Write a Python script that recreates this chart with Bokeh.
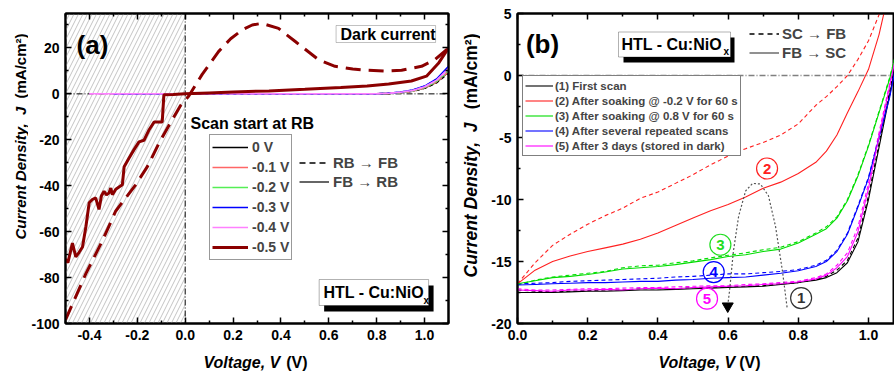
import numpy as np
from math import pi
from bokeh.plotting import figure
from bokeh.layouts import row, column
from bokeh.models import (Range1d, LinearAxis, FixedTicker, PrintfTickFormatter, Span, Label,
                          BoxAnnotation, Legend, LegendItem)
from bokeh.core.properties import value
from bokeh.embed import file_html
from bokeh.resources import INLINE

FONT = "Liberation Sans"

# ------------------------------------------------------------------ panel (a) data
a_labels = ["0 V", "-0.1 V", "-0.2 V", "-0.3 V", "-0.4 V"]
a_start_v = [0.0, -0.1, -0.2, -0.3, -0.4]
a_colors = ["#000000", "#ff6666", "#55ee55", "#0000ff", "#ff80ff"]
a_tail_v = [0.6, 0.7, 0.8, 0.85, 0.9, 0.95, 1.0, 1.05, 1.1]
a_tail_j_fb = [
    [0.0, 0.0, 0.05, 0.2, 0.5, 1.2, 2.5, 5.0, 9.5],
    [0.0, 0.0, 0.05, 0.25, 0.6, 1.3, 2.7, 5.3, 10.0],
    [0.0, 0.0, 0.05, 0.25, 0.6, 1.4, 2.9, 5.6, 10.5],
    [0.0, 0.0, 0.1, 0.3, 0.8, 1.7, 3.4, 6.5, 12.0],
    [0.0, 0.0, 0.05, 0.3, 0.7, 1.5, 3.1, 6.0, 11.0],
]
a_tail_j_rf = [
    [0.0, 0.0, 0.05, 0.2, 0.5, 1.1, 2.4, 4.8, 9.0],
    [0.0, 0.0, 0.05, 0.2, 0.55, 1.2, 2.6, 5.1, 9.5],
    [0.0, 0.0, 0.05, 0.25, 0.6, 1.3, 2.8, 5.4, 10.0],
    [0.0, 0.0, 0.1, 0.3, 0.75, 1.6, 3.3, 6.3, 11.5],
    [0.0, 0.0, 0.05, 0.3, 0.65, 1.4, 3.0, 5.8, 10.5],
]
a_label_05 = "-0.5 V"
a_color_05 = "#8b0000"
a_v_05_fb = [-0.5, -0.49, -0.471, -0.457, -0.443, -0.429, -0.415, -0.401, -0.388, -0.374,
             -0.36, -0.35, -0.339, -0.329, -0.318, -0.311, -0.304, -0.29, -0.2625, -0.255,
             -0.235, -0.215, -0.193, -0.172, -0.15, -0.13, -0.096, -0.089, -0.05, 0.0,
             0.1, 0.2, 0.35, 0.5, 0.65, 0.76, 0.85, 0.945, 1.008, 1.058, 1.1]
a_j_05_fb = [-72.0, -73.5, -65.0, -71.0, -69.0, -66.7, -58.0, -47.4, -46.0, -45.3,
             -50.3, -44.5, -42.4, -44.0, -43.1, -41.0, -43.9, -41.5, -39.6, -31.7,
             -28.0, -24.5, -20.9, -20.2, -15.5, -12.3, -12.3, -0.4, -0.3, 0.0,
             0.4, 0.8, 1.3, 2.0, 2.8, 3.4, 4.3, 5.6, 7.7, 13.3, 20.0]
a_v_05_rf = [-0.5, -0.415, -0.346, -0.29, -0.207, -0.158, -0.11, -0.068, -0.02, 0.015,
             0.071, 0.14, 0.19, 0.2375, 0.28, 0.32, 0.39, 0.46, 0.557, 0.626,
             0.70, 0.765, 0.835, 0.904, 0.9875, 1.043, 1.1]
a_j_05_rf = [-98.4, -78.3, -64.0, -51.0, -39.6, -31.7, -21.6, -13.8, -5.2, -0.9,
             8.5, 18.5, 24.0, 27.8, 30.0, 30.7, 28.5, 22.8, 14.9, 12.0,
             10.8, 10.3, 9.9, 10.3, 12.0, 14.9, 19.9]
a_x_ticks = [-0.4, -0.2, 0.0, 0.2, 0.4, 0.6, 0.8, 1.0]
a_x_minor = [-0.5, -0.3, -0.1, 0.1, 0.3, 0.5, 0.7, 0.9, 1.1]
a_y_ticks = [-100, -80, -60, -40, -20, 0, 20]
a_y_minor = [-90, -70, -50, -30, -10, 10, 30]
a_hatch = [-0.5, 0.0]

# ------------------------------------------------------------------ panel (b) data
b_labels = ["(1) First scan", "(2) After soaking @ -0.2 V for 60 s",
            "(3) After soaking @ 0.8 V for 60 s", "(4) After several repeated scans",
            "(5) After 3 days (stored in dark)"]
b_colors = ["#000000", "#ff2020", "#00dd00", "#0000ff", "#ff00ff"]
b_v = [0.00, 0.05, 0.10, 0.15, 0.20, 0.25, 0.30, 0.35, 0.40, 0.45, 0.50, 0.55, 0.60,
       0.65, 0.70, 0.75, 0.80, 0.85, 0.88, 0.91, 0.94, 0.97, 1.00, 1.03, 1.06, 1.09]
b_j_fb = [
    [-17.5, -17.5, -17.5, -17.45, -17.4, -17.4, -17.35, -17.3, -17.3, -17.25, -17.2, -17.15, -17.1,
     -17.05, -17.0, -16.85, -16.7, -16.5, -16.3, -15.9, -15.1, -13.4, -10.0, -5.8, -1.6, 2.6],
    [-16.8, -15.7, -15.0, -14.55, -14.2, -13.9, -13.6, -13.2, -12.7, -12.1, -11.5, -10.9, -10.4,
     -9.8, -9.1, -8.6, -7.9, -7.0, -6.1, -4.8, -3.0, -1.3, 0.5, 3.3, 7.0, 11.0],
    [-16.8, -16.55, -16.3, -16.2, -16.05, -15.85, -15.6, -15.5, -15.4, -15.25, -15.05, -14.85, -14.6,
     -14.45, -14.2, -14.0, -13.5, -12.8, -12.35, -11.5, -10.1, -8.1, -5.7, -3.0, -0.3, 3.0],
    [-16.9, -16.85, -16.8, -16.75, -16.7, -16.7, -16.65, -16.6, -16.6, -16.5, -16.45, -16.35, -16.3,
     -16.25, -16.1, -15.95, -15.75, -15.4, -15.0, -14.2, -12.8, -10.6, -8.3, -5.0, -1.8, 2.5],
    [-17.3, -17.35, -17.4, -17.3, -17.3, -17.25, -17.3, -17.2, -17.15, -17.2, -17.1, -17.05, -17.0,
     -16.95, -16.85, -16.8, -16.65, -16.4, -16.1, -15.5, -14.6, -12.6, -9.1, -4.9, -0.9, 3.2],
]
b_j_sf = [
    [-17.3, -17.4, -17.45, -17.4, -17.35, -17.3, -17.3, -17.2, -17.2, -17.2, -17.1, -17.1, -17.05,
     -17.0, -16.95, -16.8, -16.7, -16.45, -16.2, -15.7, -14.9, -13.1, -9.7, -5.5, -1.3, 2.9],
    [-16.8, -15.1, -13.7, -12.8, -12.0, -11.3, -10.7, -9.9, -9.4, -8.7, -8.0, -7.2, -6.5,
     -5.9, -5.4, -4.8, -3.9, -2.4, -1.7, -0.9, 0.0, 1.3, 2.8, 4.9, 7.5, 10.5],
    [-16.9, -16.5, -16.25, -16.1, -15.95, -15.8, -15.5, -15.35, -15.3, -15.1, -14.95, -14.7, -14.5,
     -14.3, -14.05, -13.85, -13.4, -12.7, -12.2, -11.4, -10.0, -8.0, -5.6, -2.9, -0.2, 3.1],
    [-16.8, -16.75, -16.7, -16.6, -16.55, -16.5, -16.45, -16.4, -16.35, -16.25, -16.2, -16.1, -16.0,
     -16.0, -15.9, -15.8, -15.65, -15.3, -14.9, -14.1, -12.7, -10.5, -8.2, -4.9, -1.7, 2.6],
    [-17.2, -17.3, -17.3, -17.25, -17.2, -17.2, -17.15, -17.1, -17.1, -17.05, -17.0, -16.95, -16.95,
     -16.85, -16.8, -16.7, -16.6, -16.3, -16.0, -15.3, -14.3, -12.2, -8.7, -4.6, -0.7, 3.4],
]
b_x_ticks = [0.0, 0.2, 0.4, 0.6, 0.8, 1.0]
b_x_minor = [0.1, 0.3, 0.5, 0.7, 0.9]
b_y_ticks = [-20, -15, -10, -5, 0, 5]
b_y_minor = [-17.5, -12.5, -7.5, -2.5, 2.5]
# circled markers (number, V, J)
circ_txt = ["2", "3", "4", "5", "1"]
circ_v = [0.711, 0.578, 0.559, 0.540, 0.808]
circ_j = [-7.5, -13.65, -15.85, -18.0, -17.95]
circ_col = ["#ff2020", "#22dd22", "#0000ff", "#ff00ff", "#333333"]
# dotted guide arrow path
arc_v = [0.768, 0.755, 0.735, 0.715, 0.692, 0.670, 0.650, 0.630, 0.615, 0.604, 0.600]
arc_j = [-18.7, -15.8, -12.15, -9.7, -8.75, -8.7, -9.3, -11.35, -14.2, -17.4, -18.3]
arrow_tip = [0.599, -18.6]

# ------------------------------------------------------------------ geometry
ROW_H = 350
XLAB_H = 25
TOP = 13
FB = 323                     # frame bottom (page px)
YA_W, A_W, YB_W, B_W = 28, 422, 30, 414
A_FL = YA_W + 35             # 63
B_FL = YA_W + A_W + YB_W + 37  # 517
A_XR, A_YR = (-0.5, 1.1), (-100, 35)
B_XR, B_YR = (0.0, 377 / 351), (-20, 5)


def make_fig(w, xr, yr, bl, br):
    p = figure(width=w, height=ROW_H, x_range=Range1d(*xr), y_range=Range1d(*yr),
               output_backend="svg", toolbar_location=None,
               min_border_left=bl, min_border_right=br, min_border_top=TOP,
               min_border_bottom=ROW_H - FB)
    p.xgrid.visible = False
    p.ygrid.visible = False
    p.outline_line_color = "black"
    p.outline_line_width = 2
    p.background_fill_color = "white"
    p.border_fill_color = "white"
    return p


def strip(w, h):
    s = figure(width=w, height=h, x_range=Range1d(0, 1), y_range=Range1d(0, 1),
               x_axis_type=None, y_axis_type=None, output_backend="svg",
               toolbar_location=None, min_border=0)
    s.outline_line_color = None
    s.background_fill_color = "white"
    s.border_fill_color = "white"
    return s


def style_axis(ax, ticks, minor, fmt, show=True):
    ax.ticker = FixedTicker(ticks=ticks, minor_ticks=minor)
    ax.formatter = PrintfTickFormatter(format=fmt)
    ax.axis_line_width = 2
    ax.axis_line_color = "black"
    ax.major_tick_in = 6
    ax.major_tick_out = 0
    ax.minor_tick_in = 3
    ax.minor_tick_out = 0
    ax.major_tick_line_width = 1.5
    ax.minor_tick_line_width = 1.5
    ax.major_tick_line_color = "black"
    ax.minor_tick_line_color = "black"
    ax.major_label_text_font = FONT
    ax.major_label_text_font_style = "bold"
    ax.major_label_text_font_size = "14px"
    if show:
        ax.major_label_text_color = "black"
        ax.major_label_standoff = 6
    else:
        ax.major_label_text_color = None
        ax.major_label_standoff = 0
    ax.axis_label = None


def lab(p, ox, oy, px, py, text, size, style="bold", align="left", baseline="middle",
        color="black", angle=0.0):
    # ox = page x of the frame's left edge, oy = page y of the frame's bottom edge
    p.add_layout(Label(x=px - ox, y=oy - py, x_units="screen", y_units="screen", text=text,
                       text_font=FONT, text_font_size=size, text_font_style=style,
                       text_align=align, text_baseline=baseline, text_color=color, angle=angle))


def a_dx(px):
    return A_XR[0] + (px - A_FL) * (A_XR[1] - A_XR[0]) / 385.0


def a_dy(py):
    return A_YR[1] - (py - TOP) * (A_YR[1] - A_YR[0]) / 310.0


def b_dx(px):
    return B_XR[0] + (px - B_FL) * (B_XR[1] - B_XR[0]) / 377.0


def b_dy(py):
    return B_YR[1] - (py - TOP) * (B_YR[1] - B_YR[0]) / 310.0


def box(p, l, r, t, b, fill="white", line="black"):
    p.add_layout(BoxAnnotation(left=l, right=r, top=t, bottom=b, fill_color=fill, fill_alpha=1.0,
                               line_color=line, line_width=1 if line else 0))


# ================================================================== panel (a)
pa = make_fig(A_W, A_XR, A_YR, 35, 2)
style_axis(pa.xaxis[0], a_x_ticks, a_x_minor, "%.1f")
style_axis(pa.yaxis[0], a_y_ticks, a_y_minor, "%d")
ax_top = LinearAxis()
style_axis(ax_top, a_x_ticks, a_x_minor, "%.1f", show=False)
pa.add_layout(ax_top, "above")
ax_right = LinearAxis()
style_axis(ax_right, a_y_ticks, a_y_minor, "%d", show=False)
pa.add_layout(ax_right, "right")

pa.add_layout(BoxAnnotation(left=a_hatch[0], right=a_hatch[1], fill_alpha=0, line_alpha=0,
                            hatch_pattern="/", hatch_color="#c4c4c4", hatch_scale=9,
                            hatch_weight=1, level="underlay"))
pa.add_layout(Span(location=0, dimension="width", line_color="black", line_width=1,
                   line_dash="6 2 1 2", level="underlay"))
pa.add_layout(Span(location=0, dimension="height", line_color="black", line_width=1,
                   line_dash="6 2 1 2", level="underlay"))

a_items = []
for i in range(5):
    vv = [a_start_v[i]] + a_tail_v
    pa.line(vv, [0.0] + a_tail_j_rf[i], line_color=a_colors[i], line_width=1.5, line_dash="4 3")
    r = pa.line(vv, [0.0] + a_tail_j_fb[i], line_color=a_colors[i], line_width=1.5)
    a_items.append(LegendItem(label=a_labels[i], renderers=[r]))
pa.line(a_v_05_rf, a_j_05_rf, line_color=a_color_05, line_width=3, line_dash="15 8")
r05 = pa.line(a_v_05_fb, a_j_05_fb, line_color=a_color_05, line_width=3)
a_items.append(LegendItem(label=a_label_05, renderers=[r05]))

leg_a = Legend(items=a_items, location=(144, 63), label_text_font=FONT, label_text_font_style="bold",
               label_text_font_size="14px", label_height=20, glyph_height=20, glyph_width=36,
               label_standoff=4, spacing=0, padding=2, margin=0, border_line_color="#333333",
               border_line_width=1, background_fill_color="white", background_fill_alpha=1.0)
pa.add_layout(leg_a)

d1 = pa.line(np.array([np.nan]), np.array([np.nan]), line_color="black", line_width=1.5, line_dash="6 4")
d2 = pa.line(np.array([np.nan]), np.array([np.nan]), line_color="#666666", line_width=2)
leg_a2 = Legend(items=[LegendItem(label="RB \u2192 FB", renderers=[d1]),
                       LegendItem(label="FB \u2192 RB", renderers=[d2])],
                location=(234, 132), label_text_font=FONT, label_text_font_style="bold",
                label_text_font_size="15px", label_height=19, glyph_height=19, glyph_width=30,
                label_standoff=4, spacing=0, padding=0, margin=0, border_line_color=None,
                background_fill_alpha=0.0)
pa.add_layout(leg_a2)

box(pa, a_dx(335), a_dx(435), a_dy(25), a_dy(42), line="#333333")
lab(pa, A_FL, FB, 338, 33.5, "Dark current", "16px")
lab(pa, A_FL, FB, 188, 122.5, "Scan start at RB", "16px")
lab(pa, A_FL, FB, 90, 44, "(a)", "26px", align="center")
box(pa, a_dx(323), a_dx(433), a_dy(285), a_dy(311), fill="black", line=None)
box(pa, a_dx(318), a_dx(428), a_dy(279), a_dy(305))
lab(pa, A_FL, FB, 321, 292, "HTL - Cu:NiO", "16px")
lab(pa, A_FL, FB, 421, 300, "x", "10px")

# ================================================================== panel (b)
pb = make_fig(B_W, B_XR, B_YR, 37, 0)
style_axis(pb.xaxis[0], b_x_ticks, b_x_minor, "%.1f")
style_axis(pb.yaxis[0], b_y_ticks, b_y_minor, "%d")
bx_top = LinearAxis()
style_axis(bx_top, b_x_ticks, b_x_minor, "%.1f", show=False)
pb.add_layout(bx_top, "above")

pb.add_layout(Span(location=0, dimension="width", line_color="#808080", line_width=1.5,
                   line_dash="6 2 1 2", level="underlay"))

b_items = []
for i in range(5):
    pb.line(b_v, b_j_sf[i], line_color=b_colors[i], line_width=1.1, line_dash="4 3")
for i in range(5):
    r = pb.line(b_v, b_j_fb[i], line_color=b_colors[i], line_width=1.1)
    b_items.append(LegendItem(label=b_labels[i], renderers=[r]))

leg_b = Legend(items=b_items, location=(5, 167), label_text_font=FONT, label_text_font_style="bold",
               label_text_font_size="11.5px", label_height=15, glyph_height=15, glyph_width=28,
               label_standoff=2, spacing=0, padding=2, margin=0, border_line_color="black",
               border_line_width=1, background_fill_color="white", background_fill_alpha=1.0)
pb.add_layout(leg_b)

e1 = pb.line(np.array([np.nan]), np.array([np.nan]), line_color="black", line_width=1.3, line_dash="5 4")
e2 = pb.line(np.array([np.nan]), np.array([np.nan]), line_color="#555555", line_width=1.3)
leg_b2 = Legend(items=[LegendItem(label="SC \u2192 FB", renderers=[e1]),
                       LegendItem(label="FB \u2192 SC", renderers=[e2])],
                location=(232, 261), label_text_font=FONT, label_text_font_style="bold",
                label_text_font_size="15px", label_height=19, glyph_height=19, glyph_width=30,
                label_standoff=3, spacing=0, padding=0, margin=0, border_line_color=None,
                background_fill_alpha=0.0)
pb.add_layout(leg_b2)

pb.line(arc_v, arc_j, line_color="#555555", line_width=1.2, line_dash="2 2")
pb.scatter([arrow_tip[0]], [arrow_tip[1]], marker="inverted_triangle", size=11, color="black")
pb.scatter(circ_v, circ_j, marker="circle", size=21, fill_color=None, line_color=circ_col, line_width=1.2)
pb.text(circ_v, circ_j, text=circ_txt, text_color=circ_col, text_font=value(FONT),
        text_font_style="bold", text_font_size="15px", text_align="center", text_baseline="middle")

lab(pb, B_FL, FB, 542, 43, "(b)", "26px", align="center")
box(pb, b_dx(623), b_dx(734), b_dy(37), b_dy(62), fill="black", line=None)
box(pb, b_dx(618), b_dx(730), b_dy(31.5), b_dy(56.5))
lab(pb, B_FL, FB, 621, 44, "HTL - Cu:NiO", "16px")
lab(pb, B_FL, FB, 723, 51, "x", "10px")

# ================================================================== axis-title strips
ya = strip(YA_W, ROW_H)
lab(ya, 0, ROW_H, 20, 266, "Current Density, \u00a0J", "15px", style="bold italic", angle=pi / 2)
lab(ya, 0, ROW_H, 20, 60, "(mA/cm\u00b2)", "15px", align="right", angle=pi / 2)

yb = strip(YB_W, ROW_H)
YB_X0 = YA_W + A_W
lab(yb, YB_X0, ROW_H, 470, 304, "Current Density, \u00a0J", "17.5px", style="bold italic", angle=pi / 2)
lab(yb, YB_X0, ROW_H, 470, 60, "(mA/cm\u00b2)", "17.5px", align="right", angle=pi / 2)

xs = strip(YA_W + A_W + YB_W + B_W, XLAB_H)
PAGE_H = ROW_H + XLAB_H
lab(xs, 0, PAGE_H, 203, 362, "Voltage, V", "16px", style="bold italic")
lab(xs, 0, PAGE_H, 307, 362, "(V)", "16px", align="right")
lab(xs, 0, PAGE_H, 658, 362, "Voltage, V", "16px", style="bold italic")
lab(xs, 0, PAGE_H, 760, 362, "(V)", "16px", align="right")

layout = column(row(ya, pa, yb, pb, spacing=0), xs, spacing=0)
open("out.html", "w").write(file_html(layout, INLINE))
